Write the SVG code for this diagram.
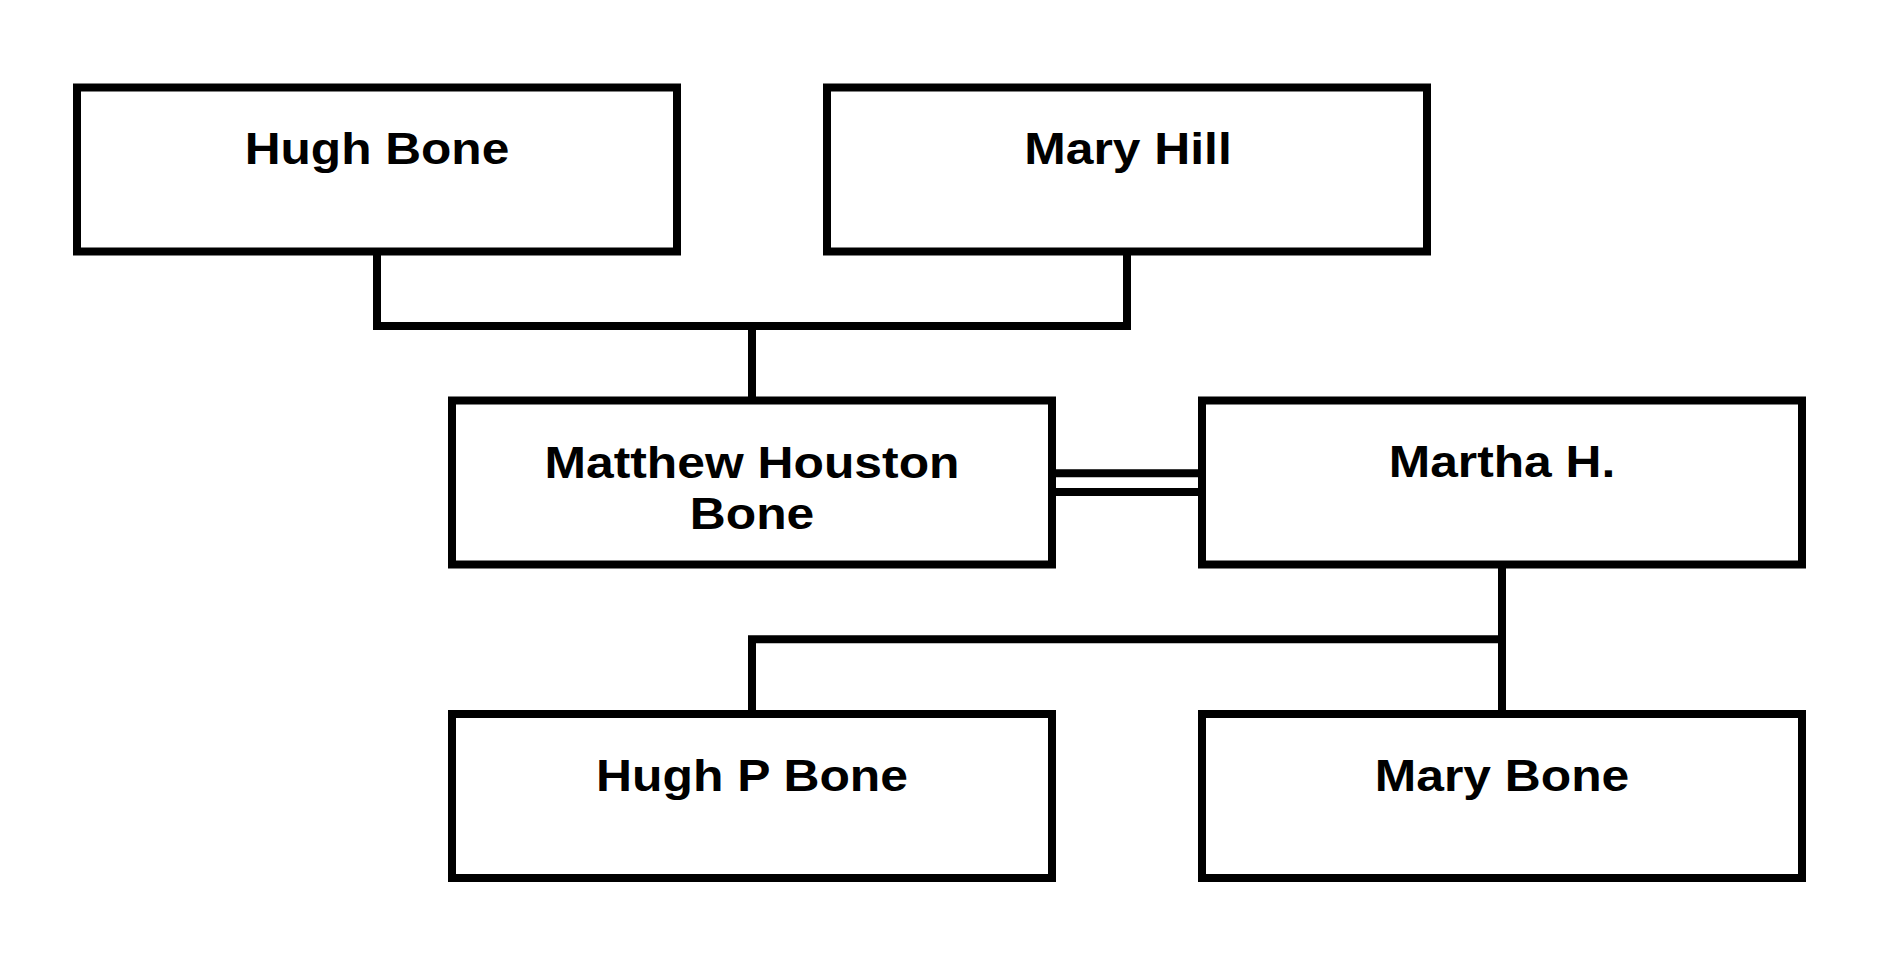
<svg xmlns="http://www.w3.org/2000/svg" width="1902" height="955" viewBox="0 0 1902 955">
<style>
.box{fill:#fff;stroke:#000;stroke-width:8}
.con{fill:none;stroke:#000;stroke-width:8}
.lbl{font-family:"Liberation Sans",Arial,sans-serif;font-weight:bold;font-size:45px;fill:#000;text-anchor:middle}
</style>
<rect width="1902" height="955" fill="#fff"/>
<g id="connectors">
<path class="con" d="M377 251.5V326H1127V251.5M752 326V400.5"/>
<path class="con" d="M1052 473.3H1202M1052 492H1202"/>
<path class="con" d="M1502 564.5V714M1502 639.3H752V714"/>
</g>
<g id="hugh-bone"><rect class="box" x="77" y="87.5" width="600" height="164"/><text class="lbl" x="377" y="163.5" textLength="264.5" lengthAdjust="spacingAndGlyphs">Hugh Bone</text></g>
<g id="mary-hill"><rect class="box" x="827" y="87.5" width="600" height="164"/><text class="lbl" x="1128" y="163.5" textLength="207.5" lengthAdjust="spacingAndGlyphs">Mary Hill</text></g>
<g id="matthew"><rect class="box" x="452" y="400.5" width="600" height="164"/><text class="lbl" x="752" y="478" textLength="415" lengthAdjust="spacingAndGlyphs">Matthew Houston</text><text class="lbl" x="752" y="529" textLength="124.5" lengthAdjust="spacingAndGlyphs">Bone</text></g>
<g id="martha"><rect class="box" x="1202" y="400.5" width="600" height="164"/><text class="lbl" x="1502" y="477" textLength="226.5" lengthAdjust="spacingAndGlyphs">Martha H.</text></g>
<g id="hugh-p-bone"><rect class="box" x="452" y="714" width="600" height="164"/><text class="lbl" x="752" y="790.5" textLength="312" lengthAdjust="spacingAndGlyphs">Hugh P Bone</text></g>
<g id="mary-bone"><rect class="box" x="1202" y="714" width="600" height="164"/><text class="lbl" x="1502" y="790.5" textLength="254.5" lengthAdjust="spacingAndGlyphs">Mary Bone</text></g>
</svg>
